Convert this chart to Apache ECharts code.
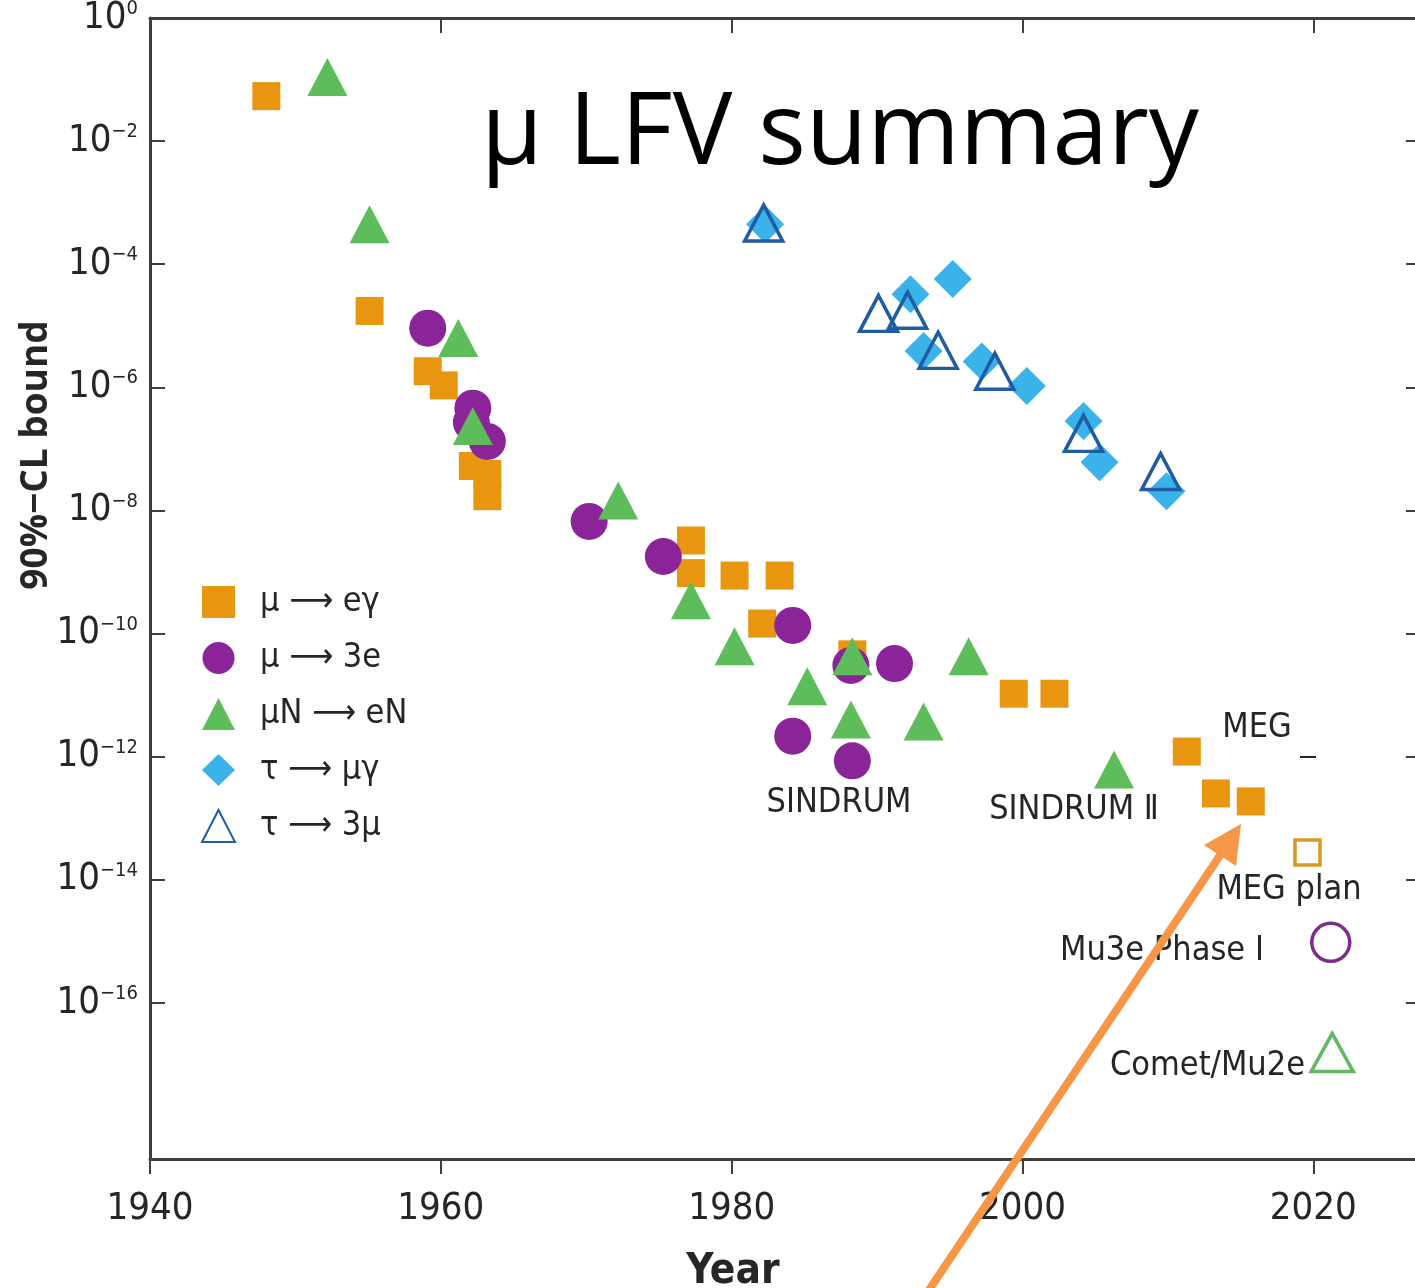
<!DOCTYPE html>
<html>
<head>
<meta charset="utf-8">
<title>μ LFV summary</title>
<script src="https://cdn.jsdelivr.net/npm/echarts@6/dist/echarts.min.js"></script>
<style>
  html, body { margin: 0; padding: 0; background: #ffffff; }
  #chart { width: 1415px; height: 1288px; }
</style>
</head>
<body>
<div id="chart"></div>
<script>
// Year of each search and log10 of its 90%-CL upper bound on the branching ratio
const muEGammaYears = [1948.0, 1955.1, 1959.1, 1960.2, 1962.2, 1963.2, 1963.2, 1977.2, 1977.2, 1980.2, 1983.3, 1982.1, 1988.3, 1999.4, 2002.2, 2011.3, 2013.3, 2015.7];
const muEGammaLog   = [-1.27, -4.76, -5.74, -5.97, -7.28, -7.41, -7.77, -8.49, -9.02, -9.06, -9.06, -9.84, -10.34, -10.98, -10.98, -11.92, -12.60, -12.73];

const mu3eYears = [1959.1, 1962.2, 1962.1, 1963.2, 1970.2, 1975.3, 1984.2, 1988.2, 1991.2, 1984.2, 1988.3];
const mu3eLog   = [-5.04, -6.34, -6.57, -6.88, -8.18, -8.75, -9.87, -10.52, -10.49, -11.67, -12.07];

const muNeNYears = [1952.2, 1955.1, 1961.2, 1962.2, 1972.2, 1977.2, 1980.2, 1985.2, 1988.3, 1988.2, 1993.2, 1996.3, 2006.3];
const muNeNLog   = [-0.96, -3.35, -5.20, -6.63, -7.84, -9.46, -10.21, -10.86, -10.37, -11.40, -11.43, -10.37, -12.21];

const tauMuGammaYears = [1982.3, 1992.3, 1995.2, 1993.2, 1997.2, 2000.3, 2004.2, 2005.3, 2009.9];
const tauMuGammaLog   = [-3.35, -4.49, -4.24, -5.41, -5.58, -5.98, -6.55, -7.22, -7.69];

const tau3MuYears = [1982.2, 1990.1, 1992.1, 1994.2, 1998.1, 2004.2, 2009.5];
const tau3MuLog   = [-3.33, -4.80, -4.75, -5.40, -5.74, -6.75, -7.37];

// Planned sensitivities: MEG plan, Mu3e Phase I, Comet/Mu2e
const megPlanYear = [2019.6];   const megPlanLog = [-13.56];
const mu3ePlanYear = [2021.2];  const mu3ePlanLog = [-15.02];
const cometPlanYear = [2021.3]; const cometPlanLog = [-16.81];

// Axis ticks (years, and decades of the bound)
const yearTicks = [1940, 1960, 1980, 2000, 2020];
const decadeTicks = [0, -2, -4, -6, -8, -10, -12, -14, -16];

const seriesNames = ['μ ⟶ eγ', 'μ ⟶ 3e', 'μN ⟶ eN', 'τ ⟶ μγ', 'τ ⟶ 3μ'];

const ORANGE = '#E8960F';
const PURPLE = '#8B2499';
const GREEN  = '#5CBD5A';
const SKY    = '#3AB3EA';
const NAVY   = '#1F5CA3';
const INK    = '#262626';
const AXIS   = '#3f3f3f';
const NARROW = '"Liberation Sans Narrow", "DejaVu Sans Condensed", "Noto Sans", sans-serif';
const WIDE   = '"Open Sans", "Noto Sans", sans-serif';

const pairs = (xs, ys) => xs.map((x, i) => [x, ys[i]]);

const chart = echarts.init(document.getElementById('chart'), null, { renderer: 'canvas' });

const supMinus = '\u2212';
function decadeLabel(v) {
  const e = Math.round(v);
  return '{b|10}{s|' + (e === 0 ? '0' : supMinus + (-e)) + '}';
}

const option = {
  backgroundColor: '#ffffff',
  animation: false,
  grid: { left: 150, top: 18, width: 1268, height: 1141, containLabel: false, outerBoundsMode: 'none' },
  xAxis: [
    {
      type: 'value', position: 'bottom', min: 1940, max: 2027.2, interval: 20,
      axisLine: { show: true, onZero: false, lineStyle: { color: AXIS, width: 3 } },
      axisTick: { show: true, inside: false, length: 15, customValues: yearTicks, lineStyle: { color: AXIS, width: 2 } },
      axisLabel: {
        show: true, margin: 31, customValues: yearTicks, formatter: (v) => String(v),
        fontFamily: NARROW, fontSize: 38, color: INK
      },
      splitLine: { show: false }
    },
    {
      type: 'value', position: 'top', min: 1940, max: 2027.2, interval: 20,
      axisLine: { show: true, onZero: false, lineStyle: { color: AXIS, width: 3 } },
      axisTick: { show: true, inside: true, length: 15, customValues: yearTicks, lineStyle: { color: AXIS, width: 2 } },
      axisLabel: { show: false },
      splitLine: { show: false }
    }
  ],
  yAxis: [
    {
      type: 'value', position: 'left', min: -18.54, max: 0,
      axisLine: { show: true, onZero: false, lineStyle: { color: AXIS, width: 3 } },
      axisTick: { show: true, inside: true, length: 15, customValues: decadeTicks, lineStyle: { color: AXIS, width: 2 } },
      axisLabel: {
        show: true, margin: 12, customValues: decadeTicks, formatter: decadeLabel,
        rich: {
          b: { fontFamily: NARROW, fontSize: 38, color: INK },
          s: { fontFamily: NARROW, fontSize: 20, color: INK, verticalAlign: 'top' }
        }
      },
      splitLine: { show: false }
    },
    {
      type: 'value', position: 'right', min: -18.54, max: 0,
      axisLine: { show: true, onZero: false, lineStyle: { color: AXIS, width: 3 } },
      axisTick: { show: true, inside: true, length: 12, customValues: decadeTicks, lineStyle: { color: AXIS, width: 2 } },
      axisLabel: { show: false },
      splitLine: { show: false }
    }
  ],
  legend: {
    data: seriesNames,
    orient: 'vertical', left: 196, top: 580,
    itemWidth: 33, itemHeight: 32, itemGap: 22,
    selectedMode: false,
    textStyle: { fontFamily: NARROW, fontSize: 34, color: INK, lineHeight: 32, padding: [0, 0, 0, 20] }
  },
  series: [
    {
      name: seriesNames[0], type: 'scatter', symbol: 'rect', symbolSize: 28,
      itemStyle: { color: ORANGE, opacity: 1 }, data: pairs(muEGammaYears, muEGammaLog), z: 2
    },
    {
      name: seriesNames[1], type: 'scatter', symbol: 'circle', symbolSize: 37,
      itemStyle: { color: PURPLE, opacity: 1 }, data: pairs(mu3eYears, mu3eLog), z: 3
    },
    {
      name: seriesNames[2], type: 'scatter', symbol: 'triangle', symbolSize: [40, 38],
      itemStyle: { color: GREEN, opacity: 1 }, data: pairs(muNeNYears, muNeNLog), z: 4
    },
    {
      name: seriesNames[3], type: 'scatter', symbol: 'diamond', symbolSize: [38, 38],
      itemStyle: { color: SKY, opacity: 1 }, data: pairs(tauMuGammaYears, tauMuGammaLog), z: 5
    },
    {
      name: seriesNames[4], type: 'scatter', symbol: 'triangle', symbolSize: [38, 36],
      itemStyle: { color: 'rgba(255,255,255,0)', borderColor: NAVY, borderWidth: 3.5, opacity: 1 },
      data: pairs(tau3MuYears, tau3MuLog), z: 6
    },
    {
      name: 'MEG plan', type: 'scatter', symbol: 'rect', symbolSize: 25,
      itemStyle: { color: 'rgba(255,255,255,0)', borderColor: '#D49A22', borderWidth: 3.5, opacity: 1 },
      data: pairs(megPlanYear, megPlanLog), z: 6
    },
    {
      name: 'Mu3e Phase I', type: 'scatter', symbol: 'circle', symbolSize: 38,
      itemStyle: { color: 'rgba(255,255,255,0)', borderColor: '#7D2C8E', borderWidth: 3.5, opacity: 1 },
      data: pairs(mu3ePlanYear, mu3ePlanLog), z: 6
    },
    {
      name: 'Comet/Mu2e', type: 'scatter', symbol: 'triangle', symbolSize: [42, 38],
      itemStyle: { color: 'rgba(255,255,255,0)', borderColor: '#63B962', borderWidth: 3.5, opacity: 1 },
      data: pairs(cometPlanYear, cometPlanLog), z: 6
    }
  ],
  graphic: [
    { type: 'text', x: 840, y: 136, z: 10,
      style: { text: 'μ LFV summary', font: '100px ' + WIDE, fill: '#000000', align: 'center', verticalAlign: 'middle' } },
    { type: 'text', x: 36, y: 455, rotation: Math.PI / 2, z: 10,
      style: { text: '90%\u2212CL bound', font: 'bold 37px ' + WIDE, fill: INK, align: 'center', verticalAlign: 'middle' } },
    { type: 'text', x: 733, y: 1272, z: 10,
      style: { text: 'Year', font: 'bold 42px ' + NARROW, fill: INK, align: 'center', verticalAlign: 'middle' } },
    { type: 'text', x: 839, y: 803, z: 10,
      style: { text: 'SINDRUM', font: '34px ' + NARROW, fill: INK, align: 'center', verticalAlign: 'middle' } },
    { type: 'text', x: 1074, y: 810, z: 10,
      style: { text: 'SINDRUM \u2161', font: '34px ' + NARROW, fill: INK, align: 'center', verticalAlign: 'middle' } },
    { type: 'text', x: 1257, y: 728, z: 10,
      style: { text: 'MEG', font: '34px ' + NARROW, fill: INK, align: 'center', verticalAlign: 'middle' } },
    { type: 'line', z: 10, shape: { x1: 1300, y1: 757, x2: 1316, y2: 757 }, style: { stroke: INK, lineWidth: 2 } },
    { type: 'text', x: 1289, y: 890, z: 10,
      style: { text: 'MEG plan', font: '34px ' + NARROW, fill: INK, align: 'center', verticalAlign: 'middle' } },
    { type: 'text', x: 1162, y: 951, z: 10,
      style: { text: 'Mu3e Phase \u2160', font: '34px ' + NARROW, fill: INK, align: 'center', verticalAlign: 'middle' } },
    { type: 'text', x: 1305, y: 1066, z: 10,
      style: { text: 'Comet/Mu2e', font: '34px ' + NARROW, fill: INK, align: 'right', verticalAlign: 'middle' } },
    // orange pointer towards the latest MEG bound
    { type: 'line', z: 20, shape: { x1: 925, y1: 1296, x2: 1221, y2: 854 },
      style: { stroke: '#F79646', lineWidth: 8 } },
    { type: 'polygon', z: 20, shape: { points: [[1241, 824], [1236, 866], [1204, 845]] },
      style: { fill: '#F79646' } }
  ]
};

chart.setOption(option);
</script>
</body>
</html>
